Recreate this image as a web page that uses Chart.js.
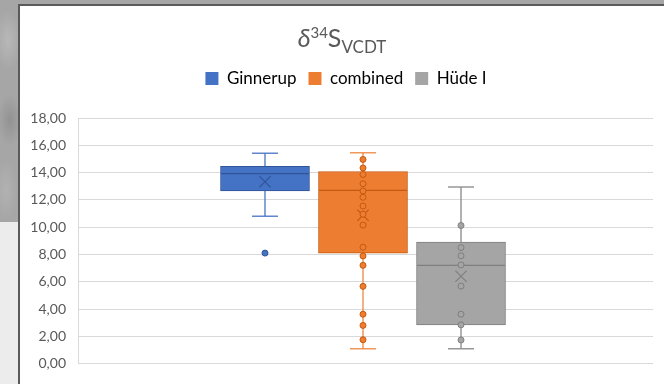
<!DOCTYPE html>
<html><head><meta charset="utf-8">
<script src="https://cdn.jsdelivr.net/npm/chart.js@4.4.1/dist/chart.umd.min.js"></script>
<style>
html,body{margin:0;padding:0;width:664px;height:384px;overflow:hidden;}
body{position:relative;background:#a4a4a4;}
#bg{position:absolute;left:0;top:0;width:664px;height:384px;background:
 radial-gradient(ellipse 14px 30px at 8px 40px, #b8b8b8 0, rgba(184,184,184,0) 100%),
 radial-gradient(ellipse 12px 26px at 10px 120px, #929292 0, rgba(146,146,146,0) 100%),
 radial-gradient(ellipse 12px 30px at 6px 190px, #b2b2b2 0, rgba(178,178,178,0) 100%),
 #a6a6a6;}
#lower{position:absolute;left:0;top:222px;width:20px;height:162px;background:#ececec;}
#panel{position:absolute;left:18px;top:4px;width:666px;height:380px;background:#fff;border-left:2px solid #5a5a5a;border-top:2px solid #5a5a5a;box-sizing:border-box;}
#wrap{position:absolute;left:20px;top:6px;width:664px;height:378px;}
</style></head>
<body>
<div id="bg"></div><div id="lower"></div><div id="panel"></div>
<div id="wrap"><canvas id="c" width="664" height="378"></canvas></div>
<script>
const categories = ['Ginnerup', 'combined', 'Hüde I'];
const positions = [1, 2, 3];
const whiskerMin = [10.80, 1.08, 1.08];
const q1 = [12.65, 8.10, 2.84];
const median = [13.93, 12.70, 7.20];
const q3 = [14.46, 14.08, 8.90];
const whiskerMax = [15.42, 15.45, 12.94];
const mean = [13.33, 10.87, 6.40];
const ginnerupPoints = [8.10];
const combinedPoints = [14.96, 14.34, 13.86, 13.18, 12.65, 12.19, 11.55, 10.95, 10.15, 8.53, 7.89, 7.20, 5.66, 3.62, 2.80, 1.75];
const hudePoints = [10.12, 8.50, 7.90, 7.23, 5.68, 3.62, 2.84, 1.73];
const pointSets = [ginnerupPoints, combinedPoints, hudePoints];
const yTickMin = 0, yTickMax = 18, yTickStep = 2;

const fill = ['#4472C4', '#ED7D31', '#A5A5A5'];
const dark = ['#2F5597', '#C55A11', '#7F7F7F'];
const whisk = ['rgba(68,114,196,0.85)', 'rgba(237,125,49,0.8)', 'rgba(140,140,140,0.9)'];

const datasets = [];
categories.forEach((c, i) => {
  datasets.push({
    type: 'bar', label: c, order: 5,
    data: [{x: positions[i], y: [q1[i], q3[i]]}],
    backgroundColor: fill[i], borderColor: dark[i], borderWidth: 1, borderSkipped: false,
    grouped: false, barThickness: 89
  });
});
categories.forEach((c, i) => {
  datasets.push({
    type: 'line', label: c + ' whisker', order: 10,
    data: [{x: positions[i], y: whiskerMax[i]}, {x: positions[i], y: whiskerMin[i]}],
    borderColor: whisk[i], borderWidth: 1.5, pointRadius: 0, fill: false
  });
});
categories.forEach((c, i) => {
  datasets.push({
    type: 'scatter', label: c + ' caps', order: 3,
    data: [{x: positions[i], y: whiskerMax[i]}, {x: positions[i], y: whiskerMin[i]}],
    pointStyle: 'line', pointRadius: 13, borderColor: whisk[i], borderWidth: 1.5
  });
});
categories.forEach((c, i) => {
  datasets.push({
    type: 'scatter', label: c + ' median', order: 2,
    data: [{x: positions[i], y: median[i]}],
    pointStyle: 'line', pointRadius: 44, borderColor: dark[i], borderWidth: 1.2
  });
});
categories.forEach((c, i) => {
  datasets.push({
    type: 'scatter', label: c + ' mean', order: 2,
    data: [{x: positions[i], y: mean[i]}],
    pointStyle: 'crossRot', pointRadius: 8, borderColor: dark[i], borderWidth: 1.2
  });
});
categories.forEach((c, i) => {
  datasets.push({
    type: 'scatter', label: c + ' points', order: 1,
    data: pointSets[i].map(v => ({x: positions[i], y: v})),
    pointStyle: 'circle', pointRadius: 3, backgroundColor: fill[i], borderColor: dark[i], borderWidth: 1
  });
});

const legendGap = {
  id: 'legendGap',
  beforeLayout(chart) {
    const lg = chart.legend;
    if (lg && !lg._gapPatched) {
      const fit = lg.fit;
      lg.fit = function() { fit.call(this); this.height += 21; };
      lg._gapPatched = true;
    }
  }
};

const fancyTitle = {
  id: 'fancyTitle',
  afterDraw(chart) {
    const tb = chart.titleBlock;
    const ctx = chart.ctx;
    const cx = chart.width / 2 - 10;
    const cy = tb.top + tb.height / 2 + 7;
    const parts = [
      {t: 'δ', f: 'italic 25px Lato', dy: 0},
      {t: '34', f: '15px Lato', dy: -9},
      {t: 'S', f: '25px Lato', dy: 0},
      {t: 'VCDT', f: '17px Lato', dy: 6}
    ];
    let w = 0;
    parts.forEach(p => { ctx.font = p.f; p.w = ctx.measureText(p.t).width; w += p.w; });
    let x = cx - w / 2;
    ctx.save();
    ctx.fillStyle = '#595959';
    ctx.textBaseline = 'alphabetic';
    parts.forEach(p => { ctx.font = p.f; ctx.fillText(p.t, x, cy + 8 + p.dy); x += p.w; });
    ctx.restore();
  }
};

new Chart(document.getElementById('c'), {
  type: 'bar',
  data: {datasets},
  plugins: [legendGap, fancyTitle],
  options: {
    responsive: false, animation: false,
    layout: {autoPadding: false, padding: {left: 0, right: 12, top: 0, bottom: 18}},
    plugins: {
      tooltip: {enabled: false},
      title: {display: true, text: ' ', font: {size: 25, family: 'Lato'}, padding: {top: 18, bottom: 4}},
      legend: {
        position: 'top',
        labels: {
          boxWidth: 13, boxHeight: 13, padding: 12,
          font: {size: 17, family: 'Lato'}, color: '#595959',
          generateLabels: () => categories.map((c, i) => ({
            text: c, fillStyle: fill[i], strokeStyle: fill[i], lineWidth: 0, datasetIndex: i, hidden: false
          }))
        }
      }
    },
    scales: {
      x: {type: 'linear', min: -0.908, max: 4.959, offset: false, display: false},
      y: {
        min: yTickMin, max: yTickMax,
        ticks: {stepSize: yTickStep, padding: 12, color: '#595959', font: {size: 14, family: 'Lato'},
          callback: v => v.toFixed(2).replace('.', ',')},
        grid: {color: '#d9d9d9', drawTicks: false},
        border: {display: true, color: '#d9d9d9'},
        afterFit(scale) { scale.width = 58; }
      },
      yRight: {
        type: 'linear', position: 'right', min: yTickMin, max: yTickMax,
        ticks: {display: false}, grid: {display: false}, border: {display: false},
        afterFit(scale) { scale.width = 19; }
      }
    }
  }
});
</script>
</body></html>
